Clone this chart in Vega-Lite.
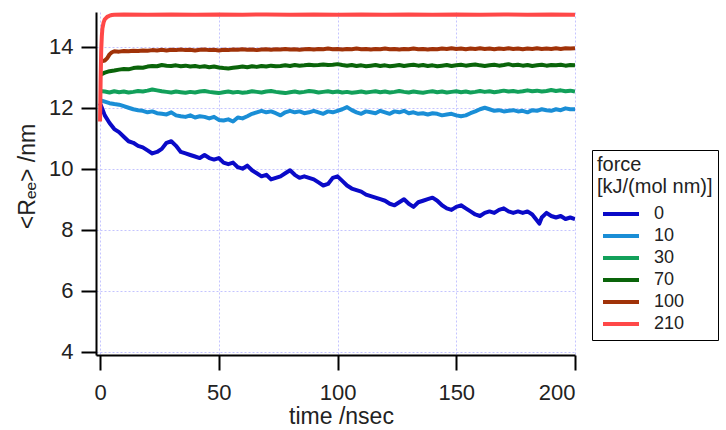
{
  "$schema": "https://vega.github.io/schema/vega-lite/v6.json",
  "width": 479,
  "height": 343,
  "autosize": {"type": "none"},
  "padding": {"left": 96, "top": 12, "right": 151, "bottom": 75},
  "background": "white",
  "data": {"values": [
    {"t":0,"f":"0","r":12.15},{"t":1,"f":"0","r":11.95},{"t":2,"f":"0","r":11.75},{"t":4,"f":"0","r":11.5},{"t":6,"f":"0","r":11.3},{"t":8,"f":"0","r":11.2},{"t":10,"f":"0","r":11.05},{"t":12,"f":"0","r":10.9},{"t":14,"f":"0","r":10.85},{"t":16,"f":"0","r":10.75},{"t":18,"f":"0","r":10.7},{"t":20,"f":"0","r":10.6},{"t":22,"f":"0","r":10.5},{"t":24,"f":"0","r":10.55},{"t":26,"f":"0","r":10.65},{"t":28,"f":"0","r":10.85},{"t":30,"f":"0","r":10.9},{"t":32,"f":"0","r":10.75},{"t":34,"f":"0","r":10.55},{"t":36,"f":"0","r":10.5},{"t":38,"f":"0","r":10.45},{"t":40,"f":"0","r":10.4},{"t":42,"f":"0","r":10.35},{"t":44,"f":"0","r":10.45},{"t":46,"f":"0","r":10.35},{"t":48,"f":"0","r":10.3},{"t":50,"f":"0","r":10.35},{"t":52,"f":"0","r":10.2},{"t":54,"f":"0","r":10.15},{"t":56,"f":"0","r":10.2},{"t":58,"f":"0","r":10.05},{"t":60,"f":"0","r":10.0},{"t":62,"f":"0","r":10.1},{"t":64,"f":"0","r":9.95},{"t":66,"f":"0","r":9.85},{"t":68,"f":"0","r":9.75},{"t":70,"f":"0","r":9.8},{"t":72,"f":"0","r":9.65},{"t":74,"f":"0","r":9.7},{"t":76,"f":"0","r":9.75},{"t":78,"f":"0","r":9.85},{"t":80,"f":"0","r":9.95},{"t":82,"f":"0","r":9.8},{"t":84,"f":"0","r":9.7},{"t":86,"f":"0","r":9.75},{"t":88,"f":"0","r":9.7},{"t":90,"f":"0","r":9.65},{"t":92,"f":"0","r":9.55},{"t":94,"f":"0","r":9.45},{"t":96,"f":"0","r":9.5},{"t":98,"f":"0","r":9.7},{"t":100,"f":"0","r":9.75},{"t":102,"f":"0","r":9.6},{"t":104,"f":"0","r":9.45},{"t":106,"f":"0","r":9.35},{"t":108,"f":"0","r":9.3},{"t":110,"f":"0","r":9.25},{"t":112,"f":"0","r":9.15},{"t":114,"f":"0","r":9.1},{"t":116,"f":"0","r":9.05},{"t":118,"f":"0","r":9.0},{"t":120,"f":"0","r":8.95},{"t":122,"f":"0","r":8.85},{"t":124,"f":"0","r":8.8},{"t":126,"f":"0","r":8.9},{"t":128,"f":"0","r":9.0},{"t":130,"f":"0","r":8.85},{"t":132,"f":"0","r":8.75},{"t":134,"f":"0","r":8.9},{"t":136,"f":"0","r":8.95},{"t":138,"f":"0","r":9.0},{"t":140,"f":"0","r":9.05},{"t":142,"f":"0","r":8.95},{"t":144,"f":"0","r":8.8},{"t":146,"f":"0","r":8.7},{"t":148,"f":"0","r":8.65},{"t":150,"f":"0","r":8.75},{"t":152,"f":"0","r":8.8},{"t":154,"f":"0","r":8.7},{"t":156,"f":"0","r":8.6},{"t":158,"f":"0","r":8.5},{"t":160,"f":"0","r":8.45},{"t":162,"f":"0","r":8.55},{"t":164,"f":"0","r":8.6},{"t":166,"f":"0","r":8.55},{"t":168,"f":"0","r":8.65},{"t":170,"f":"0","r":8.7},{"t":172,"f":"0","r":8.6},{"t":174,"f":"0","r":8.55},{"t":176,"f":"0","r":8.6},{"t":178,"f":"0","r":8.55},{"t":180,"f":"0","r":8.6},{"t":182,"f":"0","r":8.5},{"t":184,"f":"0","r":8.3},{"t":185,"f":"0","r":8.2},{"t":186,"f":"0","r":8.4},{"t":188,"f":"0","r":8.55},{"t":190,"f":"0","r":8.45},{"t":192,"f":"0","r":8.4},{"t":194,"f":"0","r":8.45},{"t":196,"f":"0","r":8.35},{"t":198,"f":"0","r":8.4},{"t":200,"f":"0","r":8.35},

    {"t":0,"f":"10","r":12.25},{"t":2,"f":"10","r":12.2},{"t":4,"f":"10","r":12.15},{"t":6,"f":"10","r":12.12},{"t":8,"f":"10","r":12.1},{"t":10,"f":"10","r":12.05},{"t":12,"f":"10","r":12.0},{"t":14,"f":"10","r":11.95},{"t":16,"f":"10","r":11.92},{"t":18,"f":"10","r":11.9},{"t":20,"f":"10","r":11.85},{"t":22,"f":"10","r":11.88},{"t":24,"f":"10","r":11.82},{"t":26,"f":"10","r":11.8},{"t":28,"f":"10","r":11.78},{"t":30,"f":"10","r":11.85},{"t":32,"f":"10","r":11.75},{"t":34,"f":"10","r":11.72},{"t":36,"f":"10","r":11.7},{"t":38,"f":"10","r":11.75},{"t":40,"f":"10","r":11.68},{"t":42,"f":"10","r":11.72},{"t":44,"f":"10","r":11.7},{"t":46,"f":"10","r":11.65},{"t":48,"f":"10","r":11.7},{"t":50,"f":"10","r":11.6},{"t":52,"f":"10","r":11.58},{"t":54,"f":"10","r":11.62},{"t":56,"f":"10","r":11.55},{"t":58,"f":"10","r":11.68},{"t":60,"f":"10","r":11.65},{"t":62,"f":"10","r":11.72},{"t":64,"f":"10","r":11.8},{"t":66,"f":"10","r":11.85},{"t":68,"f":"10","r":11.9},{"t":70,"f":"10","r":11.85},{"t":72,"f":"10","r":11.88},{"t":74,"f":"10","r":11.82},{"t":76,"f":"10","r":11.75},{"t":78,"f":"10","r":11.85},{"t":80,"f":"10","r":11.9},{"t":82,"f":"10","r":11.85},{"t":84,"f":"10","r":11.88},{"t":86,"f":"10","r":11.82},{"t":88,"f":"10","r":11.85},{"t":90,"f":"10","r":11.9},{"t":92,"f":"10","r":11.85},{"t":94,"f":"10","r":11.8},{"t":96,"f":"10","r":11.88},{"t":98,"f":"10","r":11.85},{"t":100,"f":"10","r":11.9},{"t":102,"f":"10","r":11.95},{"t":104,"f":"10","r":12.02},{"t":106,"f":"10","r":11.92},{"t":108,"f":"10","r":11.85},{"t":110,"f":"10","r":11.8},{"t":112,"f":"10","r":11.88},{"t":114,"f":"10","r":11.85},{"t":116,"f":"10","r":11.82},{"t":118,"f":"10","r":11.9},{"t":120,"f":"10","r":11.85},{"t":122,"f":"10","r":11.8},{"t":124,"f":"10","r":11.88},{"t":126,"f":"10","r":11.85},{"t":128,"f":"10","r":11.9},{"t":130,"f":"10","r":11.82},{"t":132,"f":"10","r":11.85},{"t":134,"f":"10","r":11.8},{"t":136,"f":"10","r":11.82},{"t":138,"f":"10","r":11.78},{"t":140,"f":"10","r":11.82},{"t":142,"f":"10","r":11.8},{"t":144,"f":"10","r":11.75},{"t":146,"f":"10","r":11.78},{"t":148,"f":"10","r":11.8},{"t":150,"f":"10","r":11.75},{"t":152,"f":"10","r":11.72},{"t":154,"f":"10","r":11.75},{"t":156,"f":"10","r":11.82},{"t":158,"f":"10","r":11.88},{"t":160,"f":"10","r":11.95},{"t":162,"f":"10","r":12.0},{"t":164,"f":"10","r":11.95},{"t":166,"f":"10","r":11.9},{"t":168,"f":"10","r":11.92},{"t":170,"f":"10","r":11.88},{"t":172,"f":"10","r":11.9},{"t":174,"f":"10","r":11.92},{"t":176,"f":"10","r":11.88},{"t":178,"f":"10","r":11.9},{"t":180,"f":"10","r":11.85},{"t":182,"f":"10","r":11.92},{"t":184,"f":"10","r":11.9},{"t":186,"f":"10","r":11.95},{"t":188,"f":"10","r":11.92},{"t":190,"f":"10","r":11.9},{"t":192,"f":"10","r":11.95},{"t":194,"f":"10","r":11.92},{"t":196,"f":"10","r":11.98},{"t":198,"f":"10","r":11.95},{"t":200,"f":"10","r":11.95},

    {"t":0,"f":"30","r":12.55},{"t":2,"f":"30","r":12.53},{"t":4,"f":"30","r":12.5},{"t":6,"f":"30","r":12.54},{"t":8,"f":"30","r":12.51},{"t":10,"f":"30","r":12.53},{"t":12,"f":"30","r":12.5},{"t":14,"f":"30","r":12.52},{"t":16,"f":"30","r":12.55},{"t":18,"f":"30","r":12.53},{"t":20,"f":"30","r":12.56},{"t":22,"f":"30","r":12.6},{"t":24,"f":"30","r":12.57},{"t":26,"f":"30","r":12.54},{"t":28,"f":"30","r":12.52},{"t":30,"f":"30","r":12.5},{"t":32,"f":"30","r":12.53},{"t":34,"f":"30","r":12.51},{"t":36,"f":"30","r":12.49},{"t":38,"f":"30","r":12.52},{"t":40,"f":"30","r":12.5},{"t":42,"f":"30","r":12.53},{"t":44,"f":"30","r":12.55},{"t":46,"f":"30","r":12.52},{"t":48,"f":"30","r":12.5},{"t":50,"f":"30","r":12.48},{"t":52,"f":"30","r":12.51},{"t":54,"f":"30","r":12.53},{"t":56,"f":"30","r":12.5},{"t":58,"f":"30","r":12.52},{"t":60,"f":"30","r":12.49},{"t":62,"f":"30","r":12.51},{"t":64,"f":"30","r":12.54},{"t":66,"f":"30","r":12.52},{"t":68,"f":"30","r":12.5},{"t":70,"f":"30","r":12.53},{"t":72,"f":"30","r":12.55},{"t":74,"f":"30","r":12.52},{"t":76,"f":"30","r":12.5},{"t":78,"f":"30","r":12.48},{"t":80,"f":"30","r":12.51},{"t":82,"f":"30","r":12.53},{"t":84,"f":"30","r":12.5},{"t":86,"f":"30","r":12.52},{"t":88,"f":"30","r":12.55},{"t":90,"f":"30","r":12.53},{"t":92,"f":"30","r":12.5},{"t":94,"f":"30","r":12.52},{"t":96,"f":"30","r":12.54},{"t":98,"f":"30","r":12.51},{"t":100,"f":"30","r":12.53},{"t":102,"f":"30","r":12.5},{"t":104,"f":"30","r":12.52},{"t":106,"f":"30","r":12.49},{"t":108,"f":"30","r":12.51},{"t":110,"f":"30","r":12.53},{"t":112,"f":"30","r":12.5},{"t":114,"f":"30","r":12.52},{"t":116,"f":"30","r":12.54},{"t":118,"f":"30","r":12.51},{"t":120,"f":"30","r":12.53},{"t":122,"f":"30","r":12.5},{"t":124,"f":"30","r":12.52},{"t":126,"f":"30","r":12.55},{"t":128,"f":"30","r":12.52},{"t":130,"f":"30","r":12.5},{"t":132,"f":"30","r":12.53},{"t":134,"f":"30","r":12.51},{"t":136,"f":"30","r":12.49},{"t":138,"f":"30","r":12.52},{"t":140,"f":"30","r":12.54},{"t":142,"f":"30","r":12.51},{"t":144,"f":"30","r":12.53},{"t":146,"f":"30","r":12.5},{"t":148,"f":"30","r":12.52},{"t":150,"f":"30","r":12.54},{"t":152,"f":"30","r":12.51},{"t":154,"f":"30","r":12.53},{"t":156,"f":"30","r":12.5},{"t":158,"f":"30","r":12.52},{"t":160,"f":"30","r":12.55},{"t":162,"f":"30","r":12.52},{"t":164,"f":"30","r":12.54},{"t":166,"f":"30","r":12.51},{"t":168,"f":"30","r":12.53},{"t":170,"f":"30","r":12.56},{"t":172,"f":"30","r":12.53},{"t":174,"f":"30","r":12.55},{"t":176,"f":"30","r":12.52},{"t":178,"f":"30","r":12.54},{"t":180,"f":"30","r":12.57},{"t":182,"f":"30","r":12.54},{"t":184,"f":"30","r":12.56},{"t":186,"f":"30","r":12.53},{"t":188,"f":"30","r":12.55},{"t":190,"f":"30","r":12.58},{"t":192,"f":"30","r":12.55},{"t":194,"f":"30","r":12.57},{"t":196,"f":"30","r":12.54},{"t":198,"f":"30","r":12.56},{"t":200,"f":"30","r":12.53},

    {"t":0,"f":"70","r":13.08},{"t":2,"f":"70","r":13.15},{"t":4,"f":"70","r":13.2},{"t":6,"f":"70","r":13.22},{"t":8,"f":"70","r":13.25},{"t":10,"f":"70","r":13.27},{"t":12,"f":"70","r":13.26},{"t":14,"f":"70","r":13.3},{"t":16,"f":"70","r":13.32},{"t":18,"f":"70","r":13.31},{"t":20,"f":"70","r":13.35},{"t":22,"f":"70","r":13.37},{"t":24,"f":"70","r":13.36},{"t":26,"f":"70","r":13.4},{"t":28,"f":"70","r":13.38},{"t":30,"f":"70","r":13.37},{"t":32,"f":"70","r":13.39},{"t":34,"f":"70","r":13.36},{"t":36,"f":"70","r":13.38},{"t":38,"f":"70","r":13.35},{"t":40,"f":"70","r":13.37},{"t":42,"f":"70","r":13.34},{"t":44,"f":"70","r":13.36},{"t":46,"f":"70","r":13.33},{"t":48,"f":"70","r":13.35},{"t":50,"f":"70","r":13.32},{"t":52,"f":"70","r":13.3},{"t":54,"f":"70","r":13.29},{"t":56,"f":"70","r":13.31},{"t":58,"f":"70","r":13.33},{"t":60,"f":"70","r":13.35},{"t":62,"f":"70","r":13.33},{"t":64,"f":"70","r":13.36},{"t":66,"f":"70","r":13.34},{"t":68,"f":"70","r":13.37},{"t":70,"f":"70","r":13.35},{"t":72,"f":"70","r":13.38},{"t":74,"f":"70","r":13.36},{"t":76,"f":"70","r":13.37},{"t":78,"f":"70","r":13.39},{"t":80,"f":"70","r":13.37},{"t":82,"f":"70","r":13.4},{"t":84,"f":"70","r":13.38},{"t":86,"f":"70","r":13.39},{"t":88,"f":"70","r":13.41},{"t":90,"f":"70","r":13.39},{"t":92,"f":"70","r":13.4},{"t":94,"f":"70","r":13.42},{"t":96,"f":"70","r":13.4},{"t":98,"f":"70","r":13.41},{"t":100,"f":"70","r":13.43},{"t":102,"f":"70","r":13.4},{"t":104,"f":"70","r":13.38},{"t":106,"f":"70","r":13.4},{"t":108,"f":"70","r":13.37},{"t":110,"f":"70","r":13.39},{"t":112,"f":"70","r":13.36},{"t":114,"f":"70","r":13.38},{"t":116,"f":"70","r":13.4},{"t":118,"f":"70","r":13.37},{"t":120,"f":"70","r":13.39},{"t":122,"f":"70","r":13.36},{"t":124,"f":"70","r":13.38},{"t":126,"f":"70","r":13.4},{"t":128,"f":"70","r":13.37},{"t":130,"f":"70","r":13.39},{"t":132,"f":"70","r":13.41},{"t":134,"f":"70","r":13.38},{"t":136,"f":"70","r":13.4},{"t":138,"f":"70","r":13.37},{"t":140,"f":"70","r":13.39},{"t":142,"f":"70","r":13.36},{"t":144,"f":"70","r":13.38},{"t":146,"f":"70","r":13.4},{"t":148,"f":"70","r":13.37},{"t":150,"f":"70","r":13.39},{"t":152,"f":"70","r":13.41},{"t":154,"f":"70","r":13.38},{"t":156,"f":"70","r":13.4},{"t":158,"f":"70","r":13.42},{"t":160,"f":"70","r":13.39},{"t":162,"f":"70","r":13.37},{"t":164,"f":"70","r":13.39},{"t":166,"f":"70","r":13.41},{"t":168,"f":"70","r":13.38},{"t":170,"f":"70","r":13.4},{"t":172,"f":"70","r":13.43},{"t":174,"f":"70","r":13.39},{"t":176,"f":"70","r":13.41},{"t":178,"f":"70","r":13.38},{"t":180,"f":"70","r":13.4},{"t":182,"f":"70","r":13.37},{"t":184,"f":"70","r":13.39},{"t":186,"f":"70","r":13.41},{"t":188,"f":"70","r":13.38},{"t":190,"f":"70","r":13.4},{"t":192,"f":"70","r":13.39},{"t":194,"f":"70","r":13.41},{"t":196,"f":"70","r":13.38},{"t":198,"f":"70","r":13.4},{"t":200,"f":"70","r":13.39},

    {"t":0,"f":"100","r":13.5},{"t":1,"f":"100","r":13.53},{"t":2,"f":"100","r":13.55},{"t":3,"f":"100","r":13.62},{"t":4,"f":"100","r":13.75},{"t":5,"f":"100","r":13.82},{"t":6,"f":"100","r":13.85},{"t":8,"f":"100","r":13.84},{"t":10,"f":"100","r":13.86},{"t":12,"f":"100","r":13.85},{"t":14,"f":"100","r":13.87},{"t":16,"f":"100","r":13.86},{"t":18,"f":"100","r":13.88},{"t":20,"f":"100","r":13.87},{"t":22,"f":"100","r":13.89},{"t":24,"f":"100","r":13.88},{"t":26,"f":"100","r":13.9},{"t":28,"f":"100","r":13.88},{"t":30,"f":"100","r":13.9},{"t":32,"f":"100","r":13.89},{"t":34,"f":"100","r":13.91},{"t":36,"f":"100","r":13.89},{"t":38,"f":"100","r":13.9},{"t":40,"f":"100","r":13.88},{"t":42,"f":"100","r":13.9},{"t":44,"f":"100","r":13.91},{"t":46,"f":"100","r":13.89},{"t":48,"f":"100","r":13.9},{"t":50,"f":"100","r":13.88},{"t":52,"f":"100","r":13.9},{"t":54,"f":"100","r":13.89},{"t":56,"f":"100","r":13.91},{"t":58,"f":"100","r":13.9},{"t":60,"f":"100","r":13.92},{"t":62,"f":"100","r":13.9},{"t":64,"f":"100","r":13.91},{"t":66,"f":"100","r":13.89},{"t":68,"f":"100","r":13.91},{"t":70,"f":"100","r":13.92},{"t":72,"f":"100","r":13.9},{"t":74,"f":"100","r":13.92},{"t":76,"f":"100","r":13.91},{"t":78,"f":"100","r":13.93},{"t":80,"f":"100","r":13.91},{"t":82,"f":"100","r":13.92},{"t":84,"f":"100","r":13.9},{"t":86,"f":"100","r":13.92},{"t":88,"f":"100","r":13.93},{"t":90,"f":"100","r":13.91},{"t":92,"f":"100","r":13.93},{"t":94,"f":"100","r":13.92},{"t":96,"f":"100","r":13.94},{"t":98,"f":"100","r":13.92},{"t":100,"f":"100","r":13.93},{"t":102,"f":"100","r":13.91},{"t":104,"f":"100","r":13.93},{"t":106,"f":"100","r":13.92},{"t":108,"f":"100","r":13.94},{"t":110,"f":"100","r":13.92},{"t":112,"f":"100","r":13.93},{"t":114,"f":"100","r":13.91},{"t":116,"f":"100","r":13.93},{"t":118,"f":"100","r":13.92},{"t":120,"f":"100","r":13.94},{"t":122,"f":"100","r":13.92},{"t":124,"f":"100","r":13.93},{"t":126,"f":"100","r":13.91},{"t":128,"f":"100","r":13.93},{"t":130,"f":"100","r":13.92},{"t":132,"f":"100","r":13.94},{"t":134,"f":"100","r":13.92},{"t":136,"f":"100","r":13.93},{"t":138,"f":"100","r":13.91},{"t":140,"f":"100","r":13.93},{"t":142,"f":"100","r":13.92},{"t":144,"f":"100","r":13.94},{"t":146,"f":"100","r":13.93},{"t":148,"f":"100","r":13.95},{"t":150,"f":"100","r":13.93},{"t":152,"f":"100","r":13.94},{"t":154,"f":"100","r":13.92},{"t":156,"f":"100","r":13.94},{"t":158,"f":"100","r":13.93},{"t":160,"f":"100","r":13.95},{"t":162,"f":"100","r":13.93},{"t":164,"f":"100","r":13.94},{"t":166,"f":"100","r":13.92},{"t":168,"f":"100","r":13.94},{"t":170,"f":"100","r":13.93},{"t":172,"f":"100","r":13.95},{"t":174,"f":"100","r":13.93},{"t":176,"f":"100","r":13.94},{"t":178,"f":"100","r":13.92},{"t":180,"f":"100","r":13.94},{"t":182,"f":"100","r":13.93},{"t":184,"f":"100","r":13.95},{"t":186,"f":"100","r":13.93},{"t":188,"f":"100","r":13.94},{"t":190,"f":"100","r":13.93},{"t":192,"f":"100","r":13.95},{"t":194,"f":"100","r":13.93},{"t":196,"f":"100","r":13.95},{"t":198,"f":"100","r":13.94},{"t":200,"f":"100","r":13.95},

    {"t":0,"f":"210","r":11.55},{"t":0.25,"f":"210","r":12.9},{"t":0.5,"f":"210","r":13.9},{"t":0.75,"f":"210","r":14.35},{"t":1,"f":"210","r":14.6},{"t":1.5,"f":"210","r":14.8},{"t":2,"f":"210","r":14.9},{"t":3,"f":"210","r":14.98},{"t":4,"f":"210","r":15.02},{"t":5,"f":"210","r":15.04},{"t":6,"f":"210","r":15.05},{"t":10,"f":"210","r":15.06},{"t":20,"f":"210","r":15.05},{"t":30,"f":"210","r":15.06},{"t":40,"f":"210","r":15.05},{"t":50,"f":"210","r":15.06},{"t":60,"f":"210","r":15.05},{"t":70,"f":"210","r":15.06},{"t":80,"f":"210","r":15.05},{"t":90,"f":"210","r":15.06},{"t":100,"f":"210","r":15.05},{"t":110,"f":"210","r":15.06},{"t":120,"f":"210","r":15.05},{"t":130,"f":"210","r":15.06},{"t":140,"f":"210","r":15.05},{"t":150,"f":"210","r":15.06},{"t":160,"f":"210","r":15.05},{"t":170,"f":"210","r":15.06},{"t":180,"f":"210","r":15.05},{"t":190,"f":"210","r":15.06},{"t":200,"f":"210","r":15.05}
  ]},
  "mark": {"type": "line", "strokeWidth": 4, "strokeJoin": "round", "clip": true},
  "encoding": {
    "x": {
      "field": "t", "type": "quantitative",
      "scale": {"domain": [-1.7, 200], "nice": false, "zero": false},
      "axis": {
        "values": [0, 50, 100, 150, 200],
        "title": "time /nsec",
        "tickSize": 15,
        "labelPadding": 12,
        "titleBaseline": "alphabetic",
        "titleX": 245,
        "titleY": 68,
        "titleAlign": "center"
      }
    },
    "y": {
      "field": "r", "type": "quantitative",
      "scale": {"domain": [3.89, 15.14], "nice": false, "zero": false},
      "axis": {
        "values": [4, 6, 8, 10, 12, 14],
        "title": "<Rₑₑ> /nm",
        "tickSize": 15,
        "labelPadding": 8,
        "titleBaseline": "alphabetic",
        "titleAngle": 270,
        "titleX": -62,
        "titleY": 164,
        "titleAlign": "center"
      }
    },
    "color": {
      "field": "f", "type": "nominal",
      "scale": {
        "domain": ["0", "10", "30", "70", "100", "210"],
        "range": ["#0a0ac8", "#1a8ed6", "#12a05a", "#0a640a", "#a03208", "#ff4848"]
      },
      "legend": {
        "title": ["force", "[kJ/(mol nm)]"],
        "orient": "none",
        "legendX": 496,
        "legendY": 138,
        "strokeColor": "black",
        "fillColor": "white",
        "padding": 5,
        "titleFont": "Liberation Sans",
        "titleFontSize": 20,
        "titleFontWeight": "normal",
        "titleColor": "#222",
        "titleLineHeight": 22,
        "titlePadding": 6,
        "labelFont": "Liberation Sans",
        "labelFontSize": 18,
        "labelColor": "#222",
        "symbolType": "stroke",
        "symbolSize": 1296,
        "symbolStrokeWidth": 4,
        "symbolOffset": 4,
        "labelOffset": 13,
        "clipHeight": 22,
        "rowPadding": 0
      }
    }
  },
  "config": {
    "view": {"stroke": null},
    "axis": {
      "domainColor": "black",
      "domainWidth": 2,
      "tickColor": "black",
      "tickWidth": 2,
      "labelFont": "Liberation Sans",
      "labelFontSize": 22,
      "labelColor": "#222",
      "titleFont": "Liberation Sans",
      "titleFontSize": 23,
      "titleFontWeight": "normal",
      "titleColor": "#222",
      "grid": true,
      "gridColor": "#c4c4ff",
      "gridDash": [2, 2],
      "gridWidth": 1
    }
  }
}
